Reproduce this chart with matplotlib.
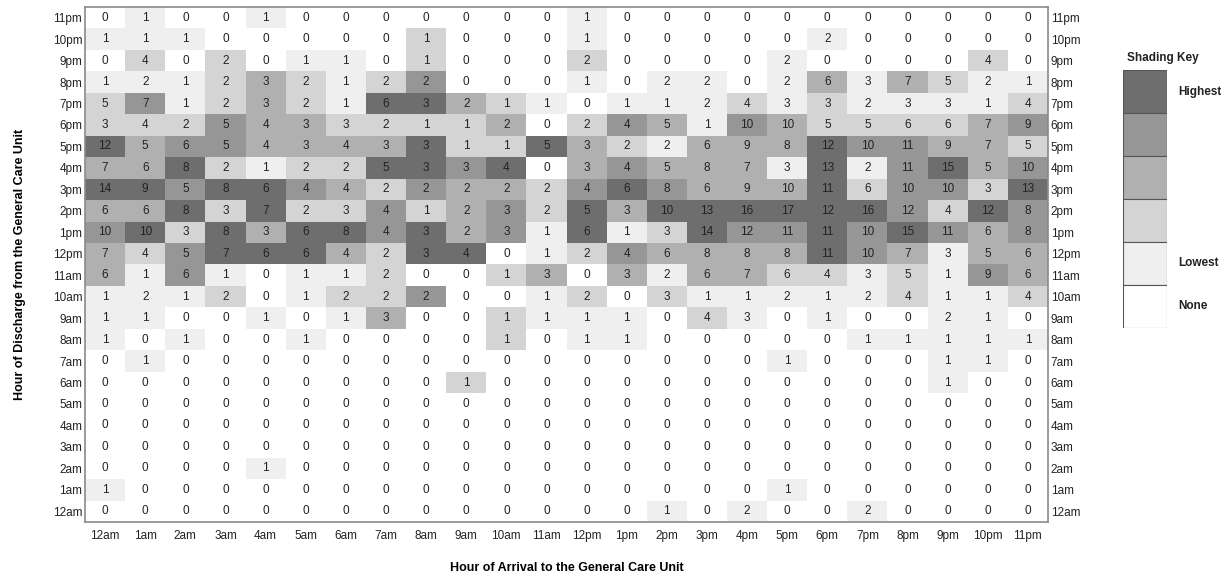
"""Heatmap of discharge hour vs arrival hour for the general care unit."""

import numpy as np
import matplotlib
matplotlib.use("Agg")
import matplotlib.pyplot as plt
from matplotlib.colors import ListedColormap, BoundaryNorm
from matplotlib.patches import Rectangle

plt.rcParams["font.family"] = ["Liberation Sans", "DejaVu Sans"]

hours = ["12am", "1am", "2am", "3am", "4am", "5am", "6am", "7am", "8am", "9am",
         "10am", "11am", "12pm", "1pm", "2pm", "3pm", "4pm", "5pm", "6pm", "7pm",
         "8pm", "9pm", "10pm", "11pm"]

# counts: one list per discharge hour (12am .. 11pm), columns = arrival hour
dis_12am = [0, 0, 0, 0, 0, 0, 0, 0, 0, 0, 0, 0, 0, 0, 1, 0, 2, 0, 0, 2, 0, 0, 0, 0]
dis_1am = [1, 0, 0, 0, 0, 0, 0, 0, 0, 0, 0, 0, 0, 0, 0, 0, 0, 1, 0, 0, 0, 0, 0, 0]
dis_2am = [0, 0, 0, 0, 1, 0, 0, 0, 0, 0, 0, 0, 0, 0, 0, 0, 0, 0, 0, 0, 0, 0, 0, 0]
dis_3am = [0] * 24
dis_4am = [0] * 24
dis_5am = [0] * 24
dis_6am = [0, 0, 0, 0, 0, 0, 0, 0, 0, 1, 0, 0, 0, 0, 0, 0, 0, 0, 0, 0, 0, 1, 0, 0]
dis_7am = [0, 1, 0, 0, 0, 0, 0, 0, 0, 0, 0, 0, 0, 0, 0, 0, 0, 1, 0, 0, 0, 1, 1, 0]
dis_8am = [1, 0, 1, 0, 0, 1, 0, 0, 0, 0, 1, 0, 1, 1, 0, 0, 0, 0, 0, 1, 1, 1, 1, 1]
dis_9am = [1, 1, 0, 0, 1, 0, 1, 3, 0, 0, 1, 1, 1, 1, 0, 4, 3, 0, 1, 0, 0, 2, 1, 0]
dis_10am = [1, 2, 1, 2, 0, 1, 2, 2, 2, 0, 0, 1, 2, 0, 3, 1, 1, 2, 1, 2, 4, 1, 1, 4]
dis_11am = [6, 1, 6, 1, 0, 1, 1, 2, 0, 0, 1, 3, 0, 3, 2, 6, 7, 6, 4, 3, 5, 1, 9, 6]
dis_12pm = [7, 4, 5, 7, 6, 6, 4, 2, 3, 4, 0, 1, 2, 4, 6, 8, 8, 8, 11, 10, 7, 3, 5, 6]
dis_1pm = [10, 10, 3, 8, 3, 6, 8, 4, 3, 2, 3, 1, 6, 1, 3, 14, 12, 11, 11, 10, 15, 11, 6, 8]
dis_2pm = [6, 6, 8, 3, 7, 2, 3, 4, 1, 2, 3, 2, 5, 3, 10, 13, 16, 17, 12, 16, 12, 4, 12, 8]
dis_3pm = [14, 9, 5, 8, 6, 4, 4, 2, 2, 2, 2, 2, 4, 6, 8, 6, 9, 10, 11, 6, 10, 10, 3, 13]
dis_4pm = [7, 6, 8, 2, 1, 2, 2, 5, 3, 3, 4, 0, 3, 4, 5, 8, 7, 3, 13, 2, 11, 15, 5, 10]
dis_5pm = [12, 5, 6, 5, 4, 3, 4, 3, 3, 1, 1, 5, 3, 2, 2, 6, 9, 8, 12, 10, 11, 9, 7, 5]
dis_6pm = [3, 4, 2, 5, 4, 3, 3, 2, 1, 1, 2, 0, 2, 4, 5, 1, 10, 10, 5, 5, 6, 6, 7, 9]
dis_7pm = [5, 7, 1, 2, 3, 2, 1, 6, 3, 2, 1, 1, 0, 1, 1, 2, 4, 3, 3, 2, 3, 3, 1, 4]
dis_8pm = [1, 2, 1, 2, 3, 2, 1, 2, 2, 0, 0, 0, 1, 0, 2, 2, 0, 2, 6, 3, 7, 5, 2, 1]
dis_9pm = [0, 4, 0, 2, 0, 1, 1, 0, 1, 0, 0, 0, 2, 0, 0, 0, 0, 2, 0, 0, 0, 0, 4, 0]
dis_10pm = [1, 1, 1, 0, 0, 0, 0, 0, 1, 0, 0, 0, 1, 0, 0, 0, 0, 0, 2, 0, 0, 0, 0, 0]
dis_11pm = [0, 1, 0, 0, 1, 0, 0, 0, 0, 0, 0, 0, 1, 0, 0, 0, 0, 0, 0, 0, 0, 0, 0, 0]

counts = np.array([dis_12am, dis_1am, dis_2am, dis_3am, dis_4am, dis_5am, dis_6am,
                   dis_7am, dis_8am, dis_9am, dis_10am, dis_11am, dis_12pm, dis_1pm,
                   dis_2pm, dis_3pm, dis_4pm, dis_5pm, dis_6pm, dis_7pm, dis_8pm,
                   dis_9pm, dis_10pm, dis_11pm])

key_labels = ["Highest", "", "", "", "Lowest", "None"]
shades = ["#ffffff", "#efefef", "#d4d4d4", "#b0b0b0", "#969696", "#6e6e6e"]

# shade level relative to the busiest discharge hour for each arrival hour
col_max = counts.max(axis=0, keepdims=True).astype(float)
col_max[col_max == 0] = 1
level = np.ceil(5 * counts / col_max).astype(int)

fig = plt.figure(figsize=(12.29, 5.80), dpi=100)
ax = fig.add_axes([0.0692, 0.100, 0.7835, 0.888])

cmap = ListedColormap(shades)
norm = BoundaryNorm(np.arange(-0.5, 6.5, 1), cmap.N)
ax.pcolormesh(np.arange(25) - 0.5, np.arange(25) - 0.5, level, cmap=cmap, norm=norm)

n = len(hours)
for i in range(n):
    for j in range(n):
        ax.text(j, i, str(counts[i, j]), ha="center", va="center",
                fontsize=8.5, color="#222222")

ax.set_xlim(-0.5, n - 0.5)
ax.set_ylim(-0.5, n - 0.5)
ax.set_xticks(np.arange(n))
ax.set_xticklabels(hours, fontsize=8.5)
ax.set_yticks(np.arange(n))
ax.set_yticklabels(hours, fontsize=8.5)
ax.tick_params(length=0, labelright=True, colors="#222222")
ax.tick_params(axis="x", pad=6)
ax.tick_params(axis="y", pad=2)
for sp in ax.spines.values():
    sp.set_color("#8a8a8a")
    sp.set_linewidth(1.2)

ax.set_xlabel("Hour of Arrival to the General Care Unit", fontsize=9,
              fontweight="bold", labelpad=14)
ax.set_ylabel("Hour of Discharge from the General Care Unit", fontsize=9,
              fontweight="bold", labelpad=19)

# shading key
kax = fig.add_axes([0.9138, 0.4345, 0.0358, 0.4448])
kax.set_xlim(0, 1)
kax.set_ylim(0, 6)
kax.axis("off")
for k in range(6):
    kax.add_patch(Rectangle((0, 5 - k), 1, 1, facecolor=shades[5 - k],
                            edgecolor="#555555", linewidth=0.8))
    if key_labels[k]:
        kax.text(1.25, 5 - k + 0.5, key_labels[k], ha="left", va="center",
                 fontsize=8.5, fontweight="bold", color="#222222")
kax.text(0.1, 6.15, "Shading Key", ha="left", va="bottom", fontsize=8.5,
         fontweight="bold", color="#222222")

fig.savefig("out.png", dpi=100)
